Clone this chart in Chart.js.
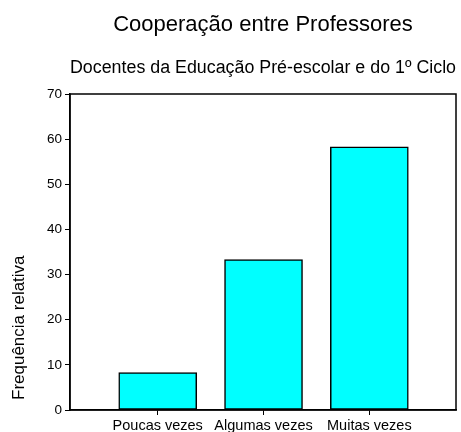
<!DOCTYPE html>
<html>
<head>
<meta charset="utf-8">
<script src="https://cdn.jsdelivr.net/npm/chart.js@4/dist/chart.umd.min.js"></script>
<style>
  html, body { margin: 0; padding: 0; background: #fff; }
  #wrap { width: 461px; height: 432px; }
</style>
</head>
<body>
<div id="wrap"><canvas id="c" width="461" height="432"></canvas></div>
<script>
const chartTitle = "Cooperação entre Professores";
const chartSubtitle = "Docentes da Educação Pré-escolar e do 1º Ciclo";
const yAxisTitle = "Frequência relativa";
const categories = ["Poucas vezes", "Algumas vezes", "Muitas vezes"];
const values = [8.3, 33.3, 58.3];
const yTicks = [0, 10, 20, 30, 40, 50, 60, 70];

const FONT = "'Liberation Sans', Arial, Helvetica, sans-serif";

const frame = {
  id: 'frame',
  afterDraw(chart) {
    const {ctx, chartArea: a} = chart;
    ctx.save();
    ctx.strokeStyle = '#000';
    ctx.lineWidth = 1.5;
    ctx.strokeRect(a.left, a.top, a.right - a.left, a.bottom - a.top);
    // y-axis title
    ctx.fillStyle = '#000';
    ctx.font = "17px " + FONT;
    ctx.translate(24, a.bottom - 10);
    ctx.rotate(-Math.PI / 2);
    ctx.textAlign = 'left';
    ctx.textBaseline = 'alphabetic';
    ctx.fillText(yAxisTitle, 0, 0);
    ctx.restore();
  }
};

new Chart(document.getElementById('c'), {
  type: 'bar',
  data: {
    datasets: [{
      data: values.map((v, i) => ({x: i, y: v})),
      backgroundColor: '#00FFFF',
      borderColor: '#000',
      borderWidth: 1.5,
      borderSkipped: false,
      barThickness: 78
    }]
  },
  options: {
    responsive: false,
    animation: false,
    layout: { padding: { left: 0, right: 5, top: 0, bottom: 0 } },
    plugins: {
      legend: { display: false },
      tooltip: { enabled: false },
      title: {
        display: true,
        text: chartTitle,
        fullSize: false,
        color: '#000',
        font: { family: FONT, size: 22, weight: 'normal' },
        padding: { top: 12, bottom: 4 }
      },
      subtitle: {
        display: true,
        text: chartSubtitle,
        fullSize: false,
        color: '#000',
        font: { family: FONT, size: 18, weight: 'normal' },
        padding: { top: 15, bottom: 15 }
      }
    },
    scales: {
      x: {
        type: 'linear',
        offset: false,
        min: -0.829,
        max: 2.819,
        afterBuildTicks(scale) {
          scale.ticks = categories.map((c, i) => ({value: i}));
        },
        afterFit(scale) { scale.height = 22; },
        grid: { display: true, offset: false, drawOnChartArea: false, drawTicks: true, tickLength: 5, color: '#000', lineWidth: 1 },
        border: { display: true, color: '#000', width: 1.5 },
        ticks: {
          color: '#000',
          padding: 2,
          maxRotation: 0,
          autoSkip: false,
          font: { family: FONT, size: 14.5 },
          callback: (v) => categories[v] ?? ''
        }
      },
      y: {
        min: 0,
        max: 70,
        afterBuildTicks(scale) {
          scale.ticks = yTicks.map(v => ({value: v}));
        },
        afterFit(scale) { scale.width = 70; },
        grid: { display: true, drawOnChartArea: false, drawTicks: true, tickLength: 5, color: '#000', lineWidth: 1 },
        border: { display: true, color: '#000', width: 1.5 },
        ticks: {
          color: '#000',
          padding: 3,
          font: { family: FONT, size: 13.5 }
        }
      }
    }
  },
  plugins: [frame]
});
</script>
</body>
</html>
